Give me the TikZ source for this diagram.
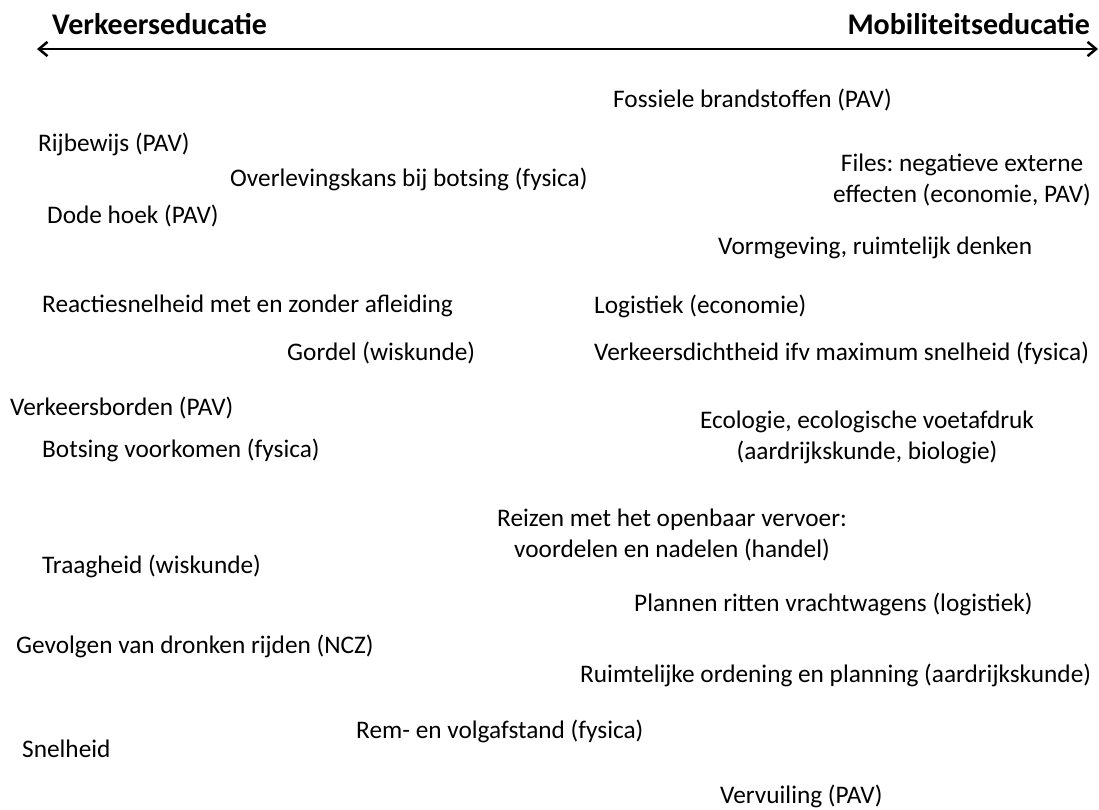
\documentclass[tikz,border=0pt]{standalone}
\usepackage{fontspec}
\setmainfont{Carlito}
\usetikzlibrary{arrows.meta, positioning}
\frenchspacing

\begin{document}
\begin{tikzpicture}[
    x=1pt, y=-1pt,
    topic/.style={anchor=west, inner sep=0pt, font=\fontsize{25.3}{31}\selectfont},
    topicc/.style={anchor=center, inner sep=0pt, align=center, font=\fontsize{25.3}{31}\selectfont},
    pole/.style={inner sep=0pt, font=\fontsize{30}{34}\selectfont\bfseries}
]
    \useasboundingbox (0,0) rectangle (1099,809);

    % Poles of the scale
    \node[pole, anchor=west] (verkeer) at (52,24) {Verkeerseducatie};
    \node[pole, anchor=east] (mobiel) at (1090,24) {Mobiliteitseducatie};

    % Axis
    \coordinate (links) at (37,49);
    \coordinate (rechts) at (1098,49);
    \draw[{Straight Barb[length=3mm, width=5mm]}-{Straight Barb[length=3mm, width=5mm]}, line width=2.5pt] (links) -- (rechts);

    % Single line topics
    \foreach \px/\py/\naam/\tekst in {
        613/100/fossiel/{Fossiele brandstoffen (PAV)},
        38/144/rijbewijs/{Rijbewijs (PAV)},
        230/179/overleving/{Overlevingskans bij botsing (fysica)},
        47/216/dodehoek/{Dode hoek (PAV)},
        718/248/vormgeving/{Vormgeving, ruimtelijk denken},
        42/306/reactie/{Reactiesnelheid met en zonder afleiding},
        594/306/logistiek/{Logistiek (economie)},
        287/353/gordel/{Gordel (wiskunde)},
        594/353/dichtheid/{Verkeersdichtheid ifv maximum snelheid (fysica)},
        10/408/borden/{Verkeersborden (PAV)},
        42/450/voorkomen/{Botsing voorkomen (fysica)},
        42/566/traagheid/{Traagheid (wiskunde)},
        634/604/ritten/{Plannen ritten vrachtwagens (logistiek)},
        16/646/dronken/{Gevolgen van dronken rijden (NCZ)},
        580/675/ordening/{Ruimtelijke ordening en planning (aardrijkskunde)},
        356/731/remafstand/{Rem- en volgafstand (fysica)},
        22/749/snelheid/{Snelheid},
        720/796/vervuiling/{Vervuiling (PAV)}
    } {
        \node[topic] (\naam) at (\px,\py) {\tekst};
    }

    % Two line topics
    \node[topicc] (files) at (962,180) {Files: negatieve externe\\effecten (economie, PAV)};
    \node[topicc] (ecologie) at (867,437) {Ecologie, ecologische voetafdruk\\(aardrijkskunde, biologie)};
    \node[topicc] (reizen) at (672,535) {Reizen met het openbaar vervoer:\\voordelen en nadelen (handel)};
\end{tikzpicture}
\end{document}
